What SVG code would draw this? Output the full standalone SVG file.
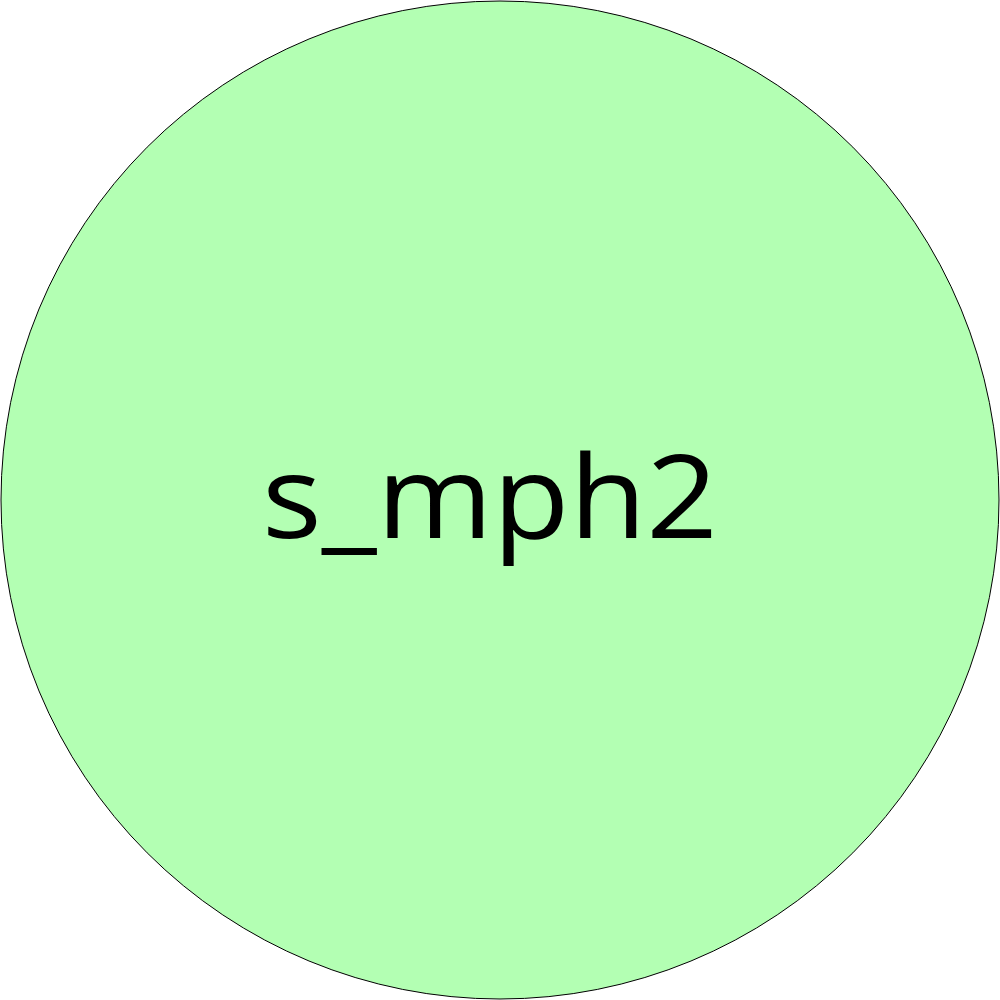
<svg xmlns="http://www.w3.org/2000/svg" width="1000" height="1000" viewBox="0 0 1000 1000">
<style>
.node{fill:#b3ffb3;stroke:#000;stroke-width:1}
.lbl{font-family:"Open Sans","Noto Sans",sans-serif;font-size:116px;fill:#000;text-anchor:middle}
</style>
<g id="connectors"></g>
<g id="s_mph2">
<circle class="node" cx="500" cy="500" r="499"/>
<text class="lbl" x="490" y="538" textLength="456" lengthAdjust="spacingAndGlyphs">s_mph2</text>
</g>
</svg>
